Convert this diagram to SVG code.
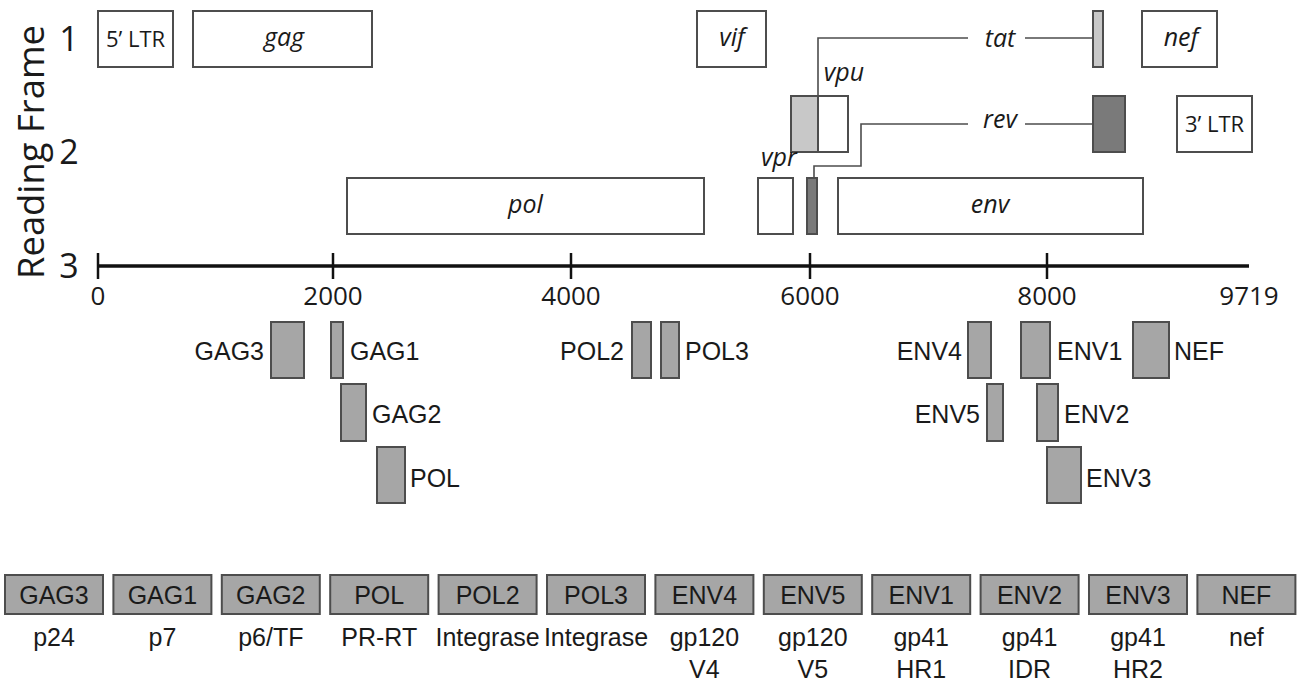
<svg xmlns="http://www.w3.org/2000/svg" width="1300" height="684" viewBox="0 0 1300 684">
<style>
.gene{fill:#fff;stroke:#4d4d4d;stroke-width:2}
.lt{fill:#c8c8c8;stroke:#4d4d4d;stroke-width:2}
.dk{fill:#7a7a7a;stroke:#4d4d4d;stroke-width:2}
.ep{fill:#a6a6a6;stroke:#4d4d4d;stroke-width:2}
.it{font-family:"Open Sans",sans-serif;font-style:italic;font-size:25px;fill:#1a1a1a;text-anchor:middle}
.ltr{font-family:"Open Sans",sans-serif;font-size:22px;fill:#1a1a1a;text-anchor:middle}
.num{font-family:"Open Sans",sans-serif;font-size:26px;fill:#1a1a1a;text-anchor:middle}
.rf{font-family:"Open Sans",sans-serif;font-size:34px;fill:#1a1a1a;text-anchor:middle}
.lab{font-family:"Liberation Sans",Arial,sans-serif;font-size:25px;fill:#1a1a1a}
.bl{font-family:"Liberation Sans",Arial,sans-serif;font-size:25px;fill:#1a1a1a;text-anchor:middle}
.conn{fill:none;stroke:#4d4d4d;stroke-width:1.6}
.axis{fill:none;stroke:#111;stroke-width:3.5}
.tick{fill:none;stroke:#111;stroke-width:2.5}
</style>

<g id="axis-title">
<text transform="translate(44,152) rotate(-90)" style="font-family:'Open Sans',sans-serif;font-size:36px;fill:#1a1a1a;text-anchor:middle" textLength="254" lengthAdjust="spacingAndGlyphs">Reading Frame</text>
<text class="rf" x="69" y="51">1</text>
<text class="rf" x="69" y="164">2</text>
<text class="rf" x="69" y="278">3</text>
</g>

<g id="connectors">
<path class="conn" d="M818,152 V38 H968"/>
<path class="conn" d="M1025,38 H1093"/>
<path class="conn" d="M814,178 V166 H861 V124 H968"/>
<path class="conn" d="M1025,124 H1093"/>
</g>

<g id="ltr5"><rect class="gene" x="98" y="11" width="75" height="56"/><text class="ltr" x="135.5" y="47">5’ LTR</text></g>
<g id="gag"><rect class="gene" x="193" y="11" width="179" height="56"/><text class="it" x="284" y="46">gag</text></g>
<g id="vif"><rect class="gene" x="697" y="11" width="69" height="56"/><text class="it" x="732" y="46">vif</text></g>
<g id="tat"><rect class="lt" x="1093" y="11" width="10" height="56"/><text class="it" x="1000" y="47">tat</text></g>
<g id="nef"><rect class="gene" x="1142" y="11" width="75" height="56"/><text class="it" x="1181" y="46">nef</text></g>
<g id="vpu"><rect class="lt" x="791" y="96" width="27" height="56"/><rect class="gene" x="818" y="96" width="30" height="56"/><text class="it" x="844" y="81">vpu</text></g>
<g id="rev"><rect class="dk" x="1093" y="96" width="32" height="56"/><rect class="dk" x="807" y="178" width="10" height="56"/><text class="it" x="1000" y="128">rev</text></g>
<g id="ltr3"><rect class="gene" x="1177" y="96" width="75" height="56"/><text class="ltr" x="1214.5" y="132">3’ LTR</text></g>
<g id="pol"><rect class="gene" x="347" y="178" width="357" height="56"/><text class="it" x="525.5" y="213">pol</text></g>
<g id="vpr"><rect class="gene" x="758" y="178" width="35" height="56"/><text class="it" x="779" y="166">vpr</text></g>
<g id="env"><rect class="gene" x="838" y="178" width="305" height="56"/><text class="it" x="990" y="213">env</text></g>

<g id="scale">
<line class="axis" x1="97" y1="266" x2="1249" y2="266"/>
<line class="tick" x1="98" y1="253" x2="98" y2="279"/>
<line class="tick" x1="333" y1="253" x2="333" y2="279"/>
<line class="tick" x1="571" y1="253" x2="571" y2="279"/>
<line class="tick" x1="810" y1="253" x2="810" y2="279"/>
<line class="tick" x1="1047" y1="253" x2="1047" y2="279"/>
<text class="num" x="98" y="305">0</text>
<text class="num" x="333" y="305">2000</text>
<text class="num" x="571" y="305">4000</text>
<text class="num" x="810" y="305">6000</text>
<text class="num" x="1047" y="305">8000</text>
<text class="num" x="1249" y="305">9719</text>
</g>

<g id="ep-GAG3"><rect class="ep" x="271" y="322" width="33" height="56"/><text class="lab" x="264" y="360" text-anchor="end">GAG3</text></g>
<g id="ep-GAG1"><rect class="ep" x="331" y="322" width="12" height="56"/><text class="lab" x="350" y="360">GAG1</text></g>
<g id="ep-GAG2"><rect class="ep" x="341" y="384" width="25" height="57"/><text class="lab" x="372" y="423">GAG2</text></g>
<g id="ep-POL"><rect class="ep" x="377" y="447" width="28" height="56"/><text class="lab" x="410" y="487">POL</text></g>
<g id="ep-POL2"><rect class="ep" x="632" y="322" width="19" height="56"/><text class="lab" x="624" y="360" text-anchor="end">POL2</text></g>
<g id="ep-POL3"><rect class="ep" x="661" y="322" width="18" height="56"/><text class="lab" x="685" y="360">POL3</text></g>
<g id="ep-ENV4"><rect class="ep" x="968" y="322" width="23" height="56"/><text class="lab" x="962" y="360" text-anchor="end">ENV4</text></g>
<g id="ep-ENV1"><rect class="ep" x="1021" y="322" width="29" height="56"/><text class="lab" x="1057" y="360">ENV1</text></g>
<g id="ep-NEF"><rect class="ep" x="1133" y="322" width="36" height="56"/><text class="lab" x="1174" y="360">NEF</text></g>
<g id="ep-ENV5"><rect class="ep" x="987" y="384" width="16" height="57"/><text class="lab" x="980" y="423" text-anchor="end">ENV5</text></g>
<g id="ep-ENV2"><rect class="ep" x="1037" y="384" width="21" height="57"/><text class="lab" x="1064" y="423">ENV2</text></g>
<g id="ep-ENV3"><rect class="ep" x="1047" y="447" width="34" height="56"/><text class="lab" x="1086" y="487">ENV3</text></g>

<g id="legend-GAG3"><rect class="ep" x="5" y="575" width="98" height="39"/><text class="bl" x="54" y="604">GAG3</text><text class="bl" x="54" y="646">p24</text></g>
<g id="legend-GAG1"><rect class="ep" x="113.4" y="575" width="98" height="39"/><text class="bl" x="162.4" y="604">GAG1</text><text class="bl" x="162.4" y="646">p7</text></g>
<g id="legend-GAG2"><rect class="ep" x="221.8" y="575" width="98" height="39"/><text class="bl" x="270.8" y="604">GAG2</text><text class="bl" x="270.8" y="646">p6/TF</text></g>
<g id="legend-POL"><rect class="ep" x="330.2" y="575" width="98" height="39"/><text class="bl" x="379.2" y="604">POL</text><text class="bl" x="379.2" y="646">PR-RT</text></g>
<g id="legend-POL2"><rect class="ep" x="438.6" y="575" width="98" height="39"/><text class="bl" x="487.6" y="604">POL2</text><text class="bl" x="487.6" y="646">Integrase</text></g>
<g id="legend-POL3"><rect class="ep" x="547" y="575" width="98" height="39"/><text class="bl" x="596" y="604">POL3</text><text class="bl" x="596" y="646">Integrase</text></g>
<g id="legend-ENV4"><rect class="ep" x="655.4" y="575" width="98" height="39"/><text class="bl" x="704.4" y="604">ENV4</text><text class="bl" x="704.4" y="646">gp120</text><text class="bl" x="704.4" y="678">V4</text></g>
<g id="legend-ENV5"><rect class="ep" x="763.8" y="575" width="98" height="39"/><text class="bl" x="812.8" y="604">ENV5</text><text class="bl" x="812.8" y="646">gp120</text><text class="bl" x="812.8" y="678">V5</text></g>
<g id="legend-ENV1"><rect class="ep" x="872.2" y="575" width="98" height="39"/><text class="bl" x="921.2" y="604">ENV1</text><text class="bl" x="921.2" y="646">gp41</text><text class="bl" x="921.2" y="678">HR1</text></g>
<g id="legend-ENV2"><rect class="ep" x="980.6" y="575" width="98" height="39"/><text class="bl" x="1029.6" y="604">ENV2</text><text class="bl" x="1029.6" y="646">gp41</text><text class="bl" x="1029.6" y="678">IDR</text></g>
<g id="legend-ENV3"><rect class="ep" x="1089" y="575" width="98" height="39"/><text class="bl" x="1138" y="604">ENV3</text><text class="bl" x="1138" y="646">gp41</text><text class="bl" x="1138" y="678">HR2</text></g>
<g id="legend-NEF"><rect class="ep" x="1197.4" y="575" width="98" height="39"/><text class="bl" x="1246.4" y="604">NEF</text><text class="bl" x="1246.4" y="646">nef</text></g>
</svg>
